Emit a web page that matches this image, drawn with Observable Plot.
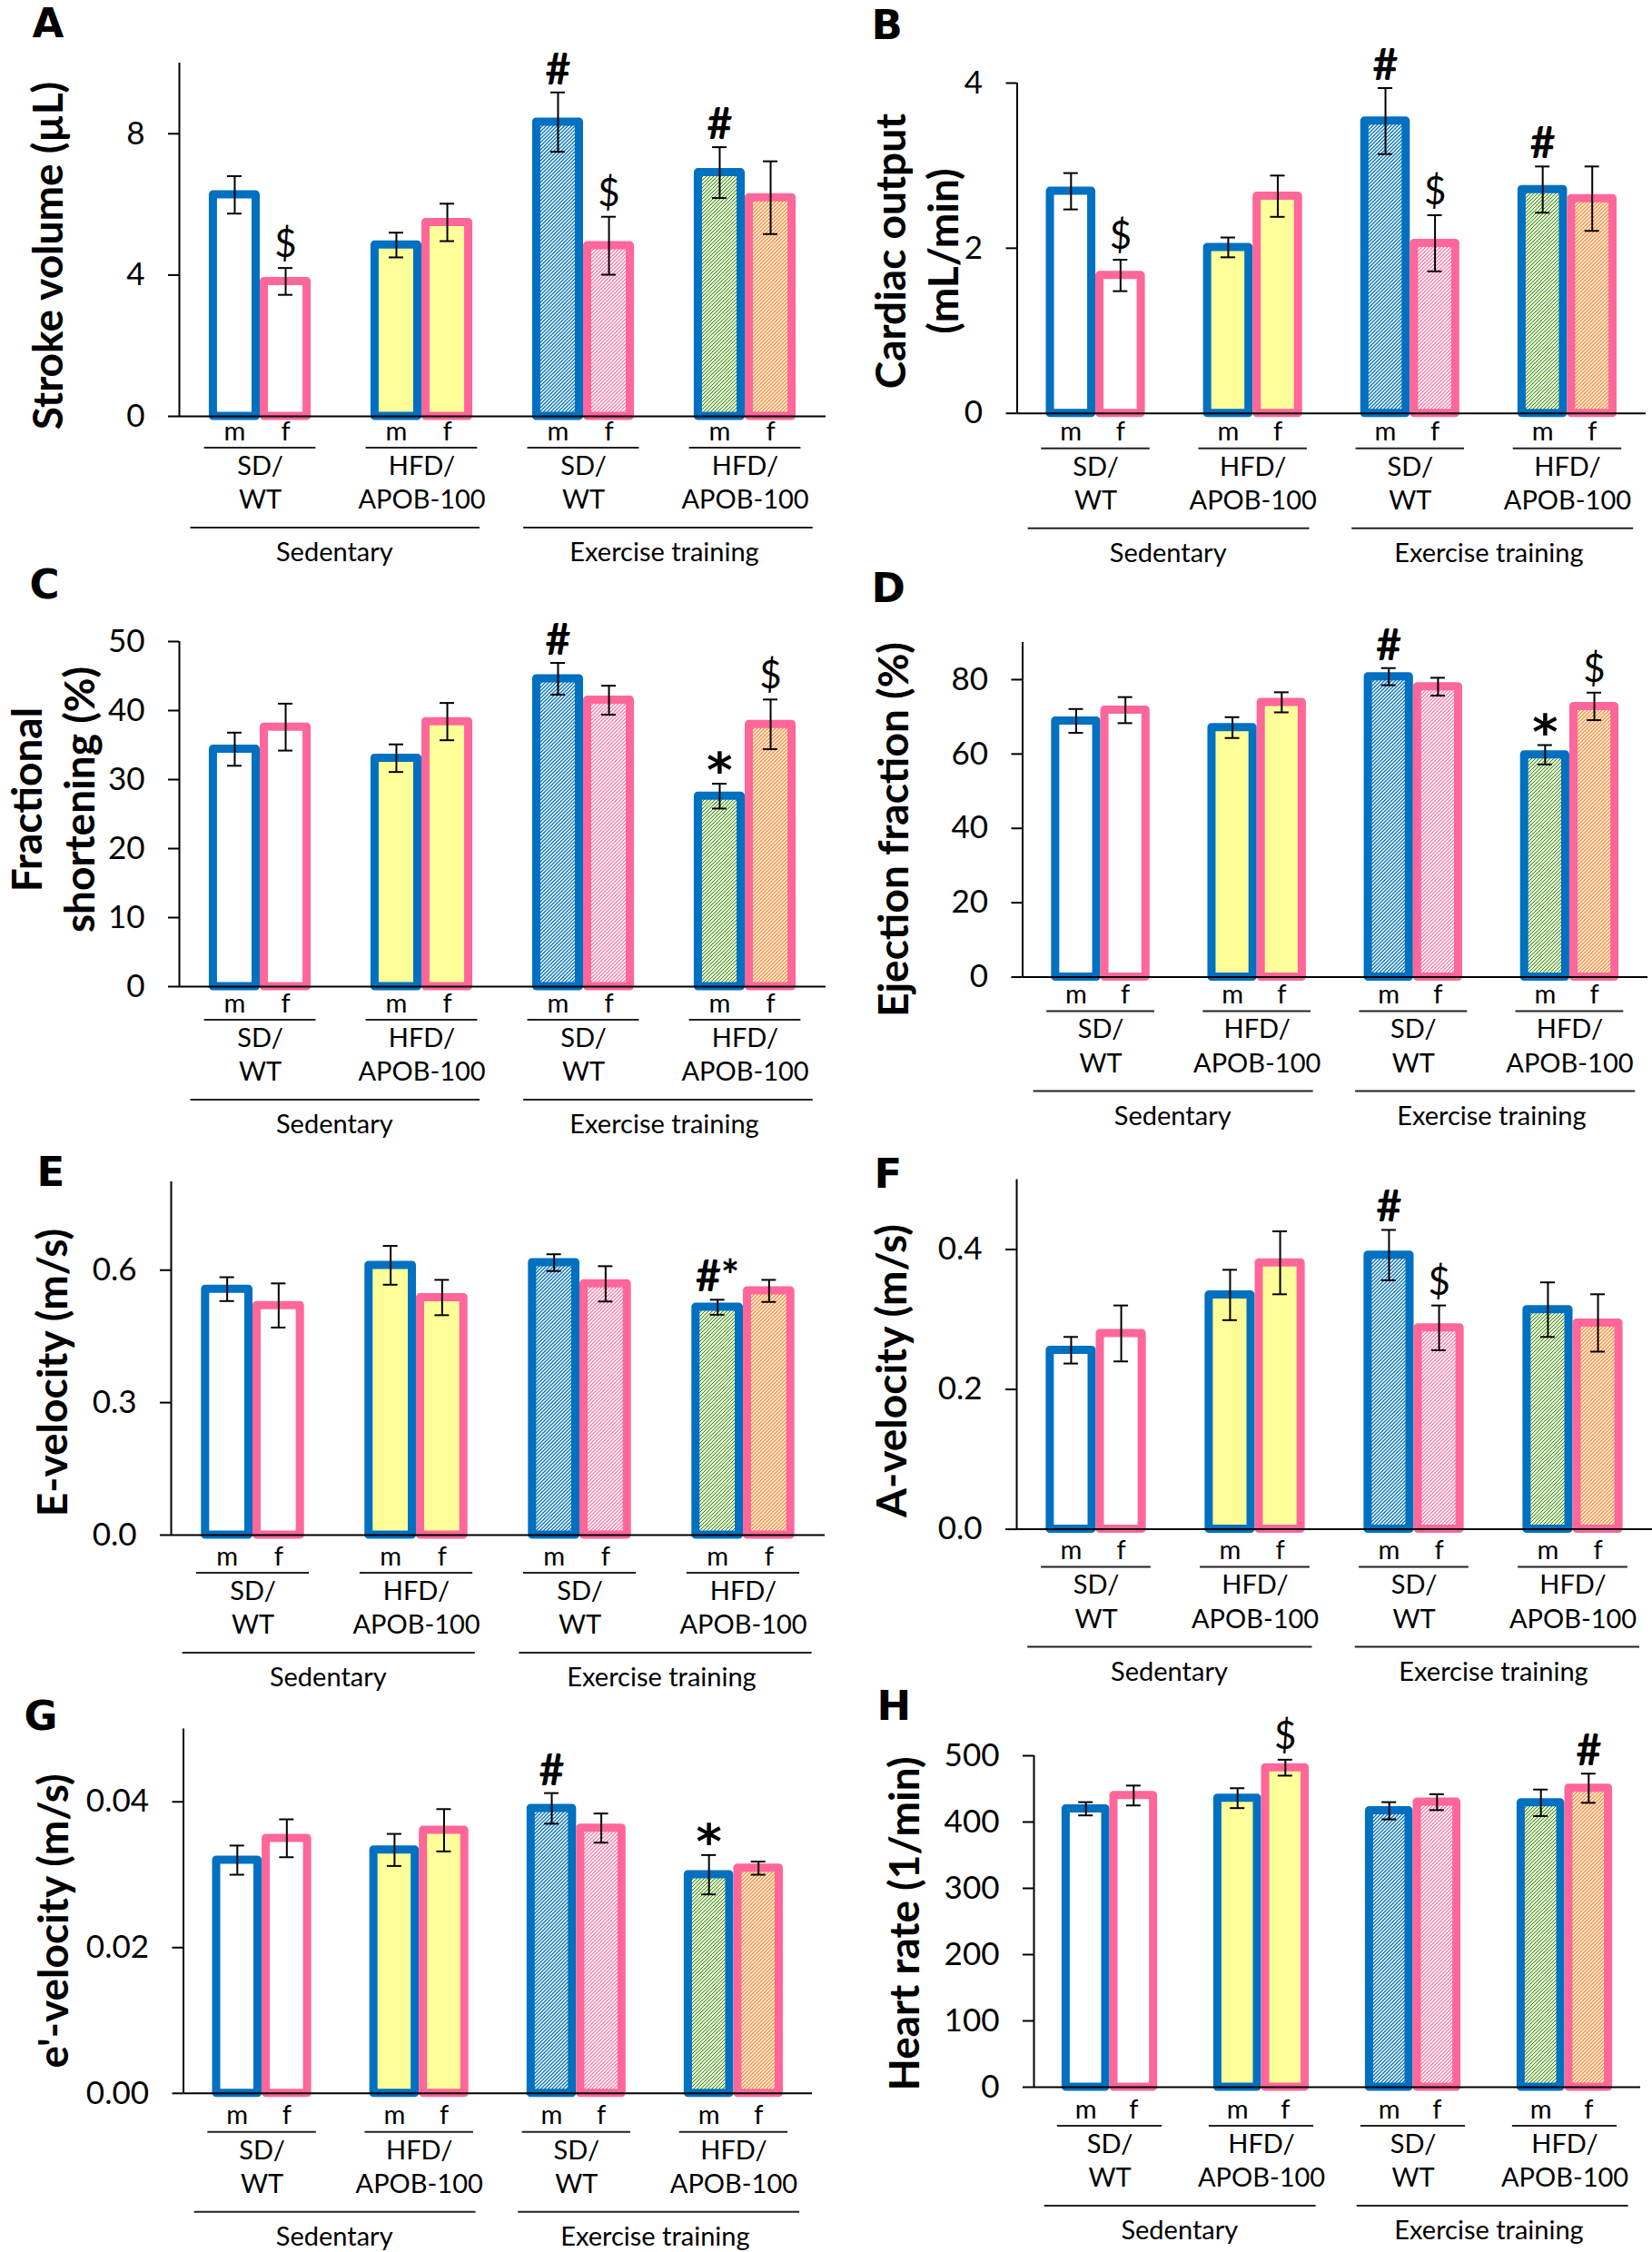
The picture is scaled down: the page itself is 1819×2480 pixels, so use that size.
<!DOCTYPE html>
<html>
<head>
<meta charset="utf-8">
<script src="https://cdn.jsdelivr.net/npm/d3@7"></script>
<script src="https://cdn.jsdelivr.net/npm/@observablehq/plot@0.6"></script>
<style>
  body { margin: 0; background: #fff; }
  #fig { position: relative; width: 1819px; height: 2480px; background: #fff; overflow: hidden; }
  #fig svg { position: absolute; overflow: visible; }
</style>
</head>
<body>
<div id="fig"></div>
<script>
// ---------------- data ----------------
const groupLabels = ["SD/\nWT", "HFD/\nAPOB-100", "SD/\nWT", "HFD/\nAPOB-100"];
const sexLabels = ["m", "f"];
const conditionLabels = ["Sedentary", "Exercise training"];

// order: SD/WT sed m,f | HFD sed m,f | SD/WT ex m,f | HFD ex m,f
const strokeVolumeMean = [6.27, 3.82, 4.85, 5.49, 8.33, 4.83, 6.90, 6.19];
const strokeVolumeSem  = [0.53, 0.38, 0.35, 0.53, 0.84, 0.82, 0.72, 1.03];
const strokeVolumeSig  = ["", "$", "", "", "#", "$", "#", ""];
const strokeVolumeTicks = [0, 4, 8];

const cardiacOutputMean = [2.69, 1.67, 2.01, 2.63, 3.54, 2.06, 2.71, 2.60];
const cardiacOutputSem  = [0.22, 0.19, 0.12, 0.25, 0.40, 0.34, 0.28, 0.39];
const cardiacOutputSig  = ["", "$", "", "", "#", "$", "#", ""];
const cardiacOutputTicks = [0, 2, 4];

const fracShortMean = [34.4, 37.6, 33.1, 38.4, 44.6, 41.5, 27.6, 38.0];
const fracShortSem  = [2.4, 3.4, 2.0, 2.7, 2.3, 2.1, 1.8, 3.6];
const fracShortSig  = ["", "", "", "", "#", "", "*", "$"];
const fracShortTicks = [0, 10, 20, 30, 40, 50];

const ejectionMean = [68.9, 71.8, 67.1, 73.9, 80.8, 78.1, 59.8, 72.8];
const ejectionSem  = [3.2, 3.5, 2.8, 2.7, 2.3, 2.4, 2.6, 3.7];
const ejectionSig  = ["", "", "", "", "#", "", "*", "$"];
const ejectionTicks = [0, 20, 40, 60, 80];

const eVelMean = [0.557, 0.520, 0.611, 0.538, 0.617, 0.569, 0.516, 0.553];
const eVelSem  = [0.027, 0.050, 0.044, 0.040, 0.019, 0.040, 0.017, 0.025];
const eVelSig  = ["", "", "", "", "", "", "#*", ""];
const eVelTicks = [0, 0.3, 0.6];

const aVelMean = [0.256, 0.280, 0.335, 0.381, 0.392, 0.288, 0.314, 0.295];
const aVelSem  = [0.019, 0.040, 0.036, 0.045, 0.036, 0.032, 0.039, 0.041];
const aVelSig  = ["", "", "", "", "#", "$", "", ""];
const aVelTicks = [0, 0.2, 0.4];

const ePrimeMean = [0.0320, 0.0350, 0.0334, 0.0361, 0.0391, 0.0364, 0.0300, 0.0309];
const ePrimeSem  = [0.0020, 0.0026, 0.0022, 0.0029, 0.0021, 0.0020, 0.0027, 0.0009];
const ePrimeSig  = ["", "", "", "", "#", "", "*", ""];
const ePrimeTicks = [0, 0.02, 0.04];

const heartRateMean = [420, 440, 436, 482, 417, 430, 429, 451];
const heartRateSem  = [10, 15, 15, 12, 13, 12, 20, 22];
const heartRateSig  = ["", "", "", "$", "", "", "", "#"];
const heartRateTicks = [0, 100, 200, 300, 400, 500];

// ---------------- layout / style ----------------
const panels = [
  {id: "A", title: "Stroke volume (µL)", mean: strokeVolumeMean, sem: strokeVolumeSem, sig: strokeVolumeSig, ticks: strokeVolumeTicks, domain: [0, 10], fmt: d3.format("d"),
   left: 0, top: 0, w: 910, ml: 197, mr: 1, mt: 69, zero: 458, lab0: 26, letter: [35, 40], ylab: [50, 281]},
  {id: "B", title: "Cardiac output\n(mL/min)", mean: cardiacOutputMean, sem: cardiacOutputSem, sig: cardiacOutputSig, ticks: cardiacOutputTicks, domain: [0, 4], fmt: d3.format("d"),
   left: 910, top: 0, w: 909, ml: 209.5, mr: 7, mt: 91, zero: 454.7, lab0: 30, letter: [49, 42], ylab: [97, 276]},
  {id: "C", title: "Fractional\nshortening (%)", mean: fracShortMean, sem: fracShortSem, sig: fracShortSig, ticks: fracShortTicks, domain: [0, 50], fmt: d3.format("d"),
   left: 0, top: 620, w: 910, ml: 197, mr: 1, mt: 86, zero: 466, lab0: 28, letter: [32, 38], ylab: [56, 260]},
  {id: "D", title: "Ejection fraction (%)", mean: ejectionMean, sem: ejectionSem, sig: ejectionSig, ticks: ejectionTicks, domain: [0, 90], fmt: d3.format("d"),
   left: 910, top: 620, w: 909, ml: 215.5, mr: 5, mt: 87, zero: 455.5, lab0: 29, letter: [49, 42], ylab: [71, 293]},
  {id: "E", title: "E-velocity (m/s)", mean: eVelMean, sem: eVelSem, sig: eVelSig, ticks: eVelTicks, domain: [0, 0.8], fmt: d3.format(".1f"),
   left: 0, top: 1240, w: 910, ml: 188, mr: 2, mt: 61, zero: 450, lab0: 33, letter: [40, 65], ylab: [55, 271]},
  {id: "F", title: "A-velocity (m/s)", mean: aVelMean, sem: aVelSem, sig: aVelSig, ticks: aVelTicks, domain: [0, 0.5], fmt: d3.format(".1f"),
   left: 910, top: 1240, w: 909, ml: 209, mr: 0, mt: 58.5, zero: 443.6, lab0: 33, letter: [52, 67], ylab: [69.5, 269]},
  {id: "G", title: "e'-velocity (m/s)", mean: ePrimeMean, sem: ePrimeSem, sig: ePrimeSig, ticks: ePrimeTicks, domain: [0, 0.05], fmt: d3.format(".2f"),
   left: 0, top: 1860, w: 910, ml: 201.5, mr: 16, mt: 43.5, zero: 444.8, lab0: 34, letter: [26, 44], ylab: [56.5, 255]},
  {id: "H", title: "Heart rate (1/min)", mean: heartRateMean, sem: heartRateSem, sig: heartRateSig, ticks: heartRateTicks, domain: [0, 500], fmt: d3.format("d"),
   left: 910, top: 1860, w: 909, ml: 228, mr: 13, mt: 73, zero: 438, lab0: 34, letter: [55, 33], ylab: [83, 258]}
];

const PANEL_H = 620;
const BAR = 0.315;                 // bar width as fraction of a group slot
const UNDER = 0.345;               // half length of the m/f underline
const condSpan = [[0.07, 1.86], [2.13, 3.92]];
const condCenter = [0.96, 3.0];
const BLUE = "#0070C0", PINK = "#FF6699", YELLOW = "#FFFF99";
const FONT = "Lato, 'Open Sans', sans-serif";

function makeDefs(id) {
  const defs = d3.create("svg:defs");
  const mk = (name, bg, fg, sw) => {
    const pat = defs.append("pattern").attr("id", `${id}-${name}`)
      .attr("patternUnits", "userSpaceOnUse").attr("width", 4).attr("height", 4);
    pat.append("rect").attr("width", 4).attr("height", 4).attr("fill", bg);
    pat.append("path").attr("d", "M-1,1L1,-1M0,4L4,0M3,5L5,3")
      .attr("stroke", fg).attr("stroke-width", sw);
  };
  mk("hb", "#ffffff", BLUE, 1.3);
  mk("hp", "#ffffff", PINK, 1.2);
  mk("hg", YELLOW, BLUE, 1.0);
  mk("ho", YELLOW, PINK, 1.1);
  return defs.node();
}

const fig = document.getElementById("fig");

for (const p of panels) {
  const mb = PANEL_H - p.zero;
  const frameMid = (p.mt + p.zero) / 2;
  const rows = p.mean.map((v, i) => ({g: Math.floor(i / 2), s: i % 2, v, e: p.sem[i], sig: p.sig[i]}));
  const cx = d => d.g + 0.5 + (d.s === 0 ? -BAR / 2 : BAR / 2);
  const groupRows = groupLabels.map((label, g) => ({g, label}));
  const condRows = conditionLabels.map((label, c) => ({c, label}));
  const fills = [["#ffffff", "#ffffff"], [YELLOW, YELLOW],
                 [`url(#${p.id}-hb)`, `url(#${p.id}-hp)`], [`url(#${p.id}-hg)`, `url(#${p.id}-ho)`]];
  const strokes = [BLUE, PINK];

  const barMarks = [];
  for (let g = 0; g < 4; g++) for (let s = 0; s < 2; s++) {
    barMarks.push(Plot.rect(rows.filter(d => d.g === g && d.s === s), {
      x1: d => cx(d) - BAR / 2, x2: d => cx(d) + BAR / 2, y1: 0, y2: "v",
      fill: fills[g][s], stroke: strokes[s], strokeWidth: 9,
      insetLeft: 4.5, insetRight: 4.5, strokeLinejoin: "round"
    }));
  }

  const svg = Plot.plot({
    width: p.w, height: PANEL_H,
    marginLeft: p.ml, marginRight: p.mr, marginTop: p.mt, marginBottom: mb,
    style: {fontFamily: FONT, color: "black", background: "transparent", overflow: "visible"},
    x: {domain: [0, 4], axis: null},
    y: {domain: p.domain, axis: null},
    marks: [
      () => makeDefs(p.id),
      ...barMarks,
      // axes
      Plot.ruleX([0], {strokeWidth: 2}),
      Plot.ruleY([0], {strokeWidth: 2}),
      Plot.axisY({ticks: p.ticks, tickFormat: p.fmt, tickSize: 12, tickPadding: 26, fontSize: 35, strokeWidth: 2, label: null}),
      // error bars
      Plot.ruleX(rows, {x: cx, y1: d => d.v - d.e, y2: d => d.v + d.e, strokeWidth: 2}),
      Plot.ruleY(rows, {x1: cx, x2: cx, y: d => d.v + d.e, insetLeft: -8, insetRight: -8, strokeWidth: 2}),
      Plot.ruleY(rows, {x1: cx, x2: cx, y: d => d.v - d.e, insetLeft: -8, insetRight: -8, strokeWidth: 2}),
      // significance marks
      Plot.text(rows.filter(d => d.sig === "$"), {x: cx, y: d => d.v + d.e, text: "sig", dy: -12, lineAnchor: "bottom", fontSize: 42}),
      Plot.text(rows.filter(d => d.sig.startsWith("#")), {x: cx, y: d => d.v + d.e, text: "sig", dy: -9, lineAnchor: "bottom", fontSize: 48, fontWeight: "bold"}),
      Plot.text(rows.filter(d => d.sig === "*"), {x: cx, y: d => d.v + d.e, text: "sig", dy: 4, lineAnchor: "bottom", fontSize: 54, fontWeight: "bold",
        fontFamily: "'DejaVu Sans', sans-serif"}),
      // category labels below
      Plot.text(rows, {x: cx, y: 0, text: d => sexLabels[d.s], dy: p.lab0, lineAnchor: "bottom", fontSize: 29}),
      Plot.ruleY(groupRows, {x1: d => d.g + 0.5 - UNDER, x2: d => d.g + 0.5 + UNDER, y: 0, dy: p.lab0 + 8.5, strokeWidth: 2, stroke: "#222"}),
      Plot.text(groupRows, {x: d => d.g + 0.5, y: 0, text: "label", dy: p.lab0 + 75.5, lineAnchor: "bottom", lineHeight: 1.28, fontSize: 29}),
      Plot.ruleY(condRows, {x1: d => condSpan[d.c][0], x2: d => condSpan[d.c][1], y: 0, dy: p.lab0 + 96.5, strokeWidth: 2, stroke: "#222"}),
      Plot.text(condRows, {x: d => condCenter[d.c], y: 0, text: "label", dy: p.lab0 + 133.5, lineAnchor: "bottom", fontSize: 29}),
      // panel letter and y title
      Plot.text([p.id], {frameAnchor: "top-left", dx: p.letter[0] - p.ml, dy: p.letter[1] - p.mt, textAnchor: "start", lineAnchor: "bottom",
        fontSize: 45, fontWeight: "bold", fontFamily: "'DejaVu Sans', sans-serif"}),
      Plot.text([p.title], {frameAnchor: "left", rotate: -90, dx: p.ylab[0] - p.ml, dy: p.ylab[1] - frameMid, textAnchor: "middle", lineAnchor: "middle",
        lineHeight: 1.25, fontSize: 46, fontWeight: "bold"})
    ]
  });
  svg.style.left = p.left + "px";
  svg.style.top = p.top + "px";
  fig.appendChild(svg);
}
</script>
</body>
</html>
